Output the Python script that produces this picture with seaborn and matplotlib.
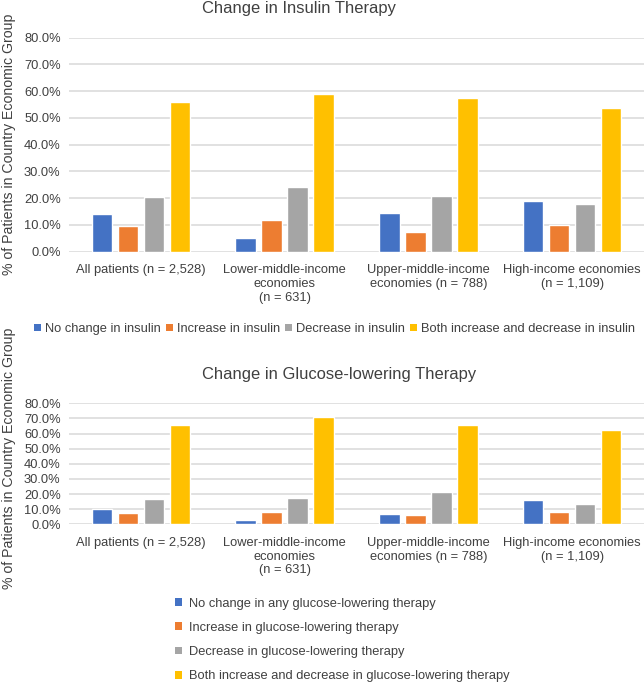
import numpy as np
import pandas as pd
import matplotlib
matplotlib.use("Agg")
import matplotlib.pyplot as plt
from matplotlib.patches import Patch
from matplotlib.ticker import PercentFormatter
import seaborn as sns

# category labels (x axis)
groups = [
    "All patients (n = 2,528)",
    "Lower-middle-income\neconomies\n(n = 631)",
    "Upper-middle-income\neconomies (n = 788)",
    "High-income economies\n(n = 1,109)",
]

# series names
insulin_series = [
    "No change in insulin",
    "Increase in insulin",
    "Decrease in insulin",
    "Both increase and decrease in insulin",
]
glucose_series = [
    "No change in any glucose-lowering therapy",
    "Increase in glucose-lowering therapy",
    "Decrease in glucose-lowering therapy",
    "Both increase and decrease in glucose-lowering therapy",
]

# values (% of patients), one list per series, in group order
ins_no_change = [14.1, 5.1, 14.6, 18.9]
ins_increase = [9.6, 11.7, 7.5, 9.8]
ins_decrease = [20.3, 24.0, 20.8, 17.8]
ins_both = [56.1, 59.1, 57.4, 53.6]

glu_no_change = [9.9, 3.1, 6.6, 15.9]
glu_increase = [7.5, 8.1, 6.2, 7.9]
glu_decrease = [16.7, 17.2, 21.2, 13.2]
glu_both = [65.5, 70.9, 65.5, 62.6]

colors = ["#4472C4", "#ED7D31", "#A5A5A5", "#FFC000"]
text_col = "#404040"


def long_df(series, values):
    rows = []
    for name, vals in zip(series, values):
        for g, v in zip(groups, vals):
            rows.append({"group": g, "series": name, "value": v})
    return pd.DataFrame(rows)


df_ins = long_df(insulin_series, [ins_no_change, ins_increase, ins_decrease, ins_both])
df_glu = long_df(glucose_series, [glu_no_change, glu_increase, glu_decrease, glu_both])

sns.set_theme(style="white")
plt.rcParams["font.family"] = ["Liberation Sans", "DejaVu Sans"]
plt.rcParams["text.color"] = text_col

W, H = 644, 683
fig = plt.figure(figsize=(W / 100, H / 100), dpi=100)


def px_axes(left, top, right, bottom):
    return fig.add_axes([left / W, 1 - bottom / H, (right - left) / W, (bottom - top) / H])


ax1 = px_axes(69, 37.7, 644, 251.7)
ax2 = px_axes(69, 403.3, 644, 524.3)

for ax, df, series in [(ax1, df_ins, insulin_series), (ax2, df_glu, glucose_series)]:
    sns.barplot(data=df, x="group", y="value", hue="series", hue_order=series,
                order=groups, palette=colors, saturation=1, width=0.724, gap=0.21,
                legend=False, ax=ax, zorder=3)
    ax.set_xlim(-0.5, 3.5)
    ax.set_ylim(0, 80)
    ax.set_yticks(np.arange(0, 81, 10))
    ax.yaxis.set_major_formatter(PercentFormatter(xmax=100, decimals=1))
    ax.grid(axis="y", color="#D9D9D9", linewidth=1.1, zorder=0)
    ax.grid(axis="x", visible=False)
    for s in ax.spines.values():
        s.set_visible(False)
    ax.tick_params(axis="both", length=0, labelsize=9.3, labelcolor=text_col)
    ax.tick_params(axis="y", pad=6)
    ax.tick_params(axis="x", pad=9)
    for lab in ax.get_xticklabels():
        lab.set_ha("center")
        lab.set_multialignment("center")
    ax.set_xlabel("")
    ax.set_ylabel("% of Patients in Country Economic Group", fontsize=10.2, color=text_col)

ax1.yaxis.set_label_coords(-0.093, 0.5)
ax2.yaxis.set_label_coords(-0.093, 0.548)

fig.text(202 / W, 1 - 8.5 / H, "Change in Insulin Therapy", ha="left", va="center",
         fontsize=11.9, color=text_col)
fig.text(202 / W, 1 - 374 / H, "Change in Glucose-lowering Therapy", ha="left", va="center",
         fontsize=11.9, color=text_col)

h1 = [Patch(facecolor=c, edgecolor="none") for c in colors]
fig.legend(h1, insulin_series, loc="center left", bbox_to_anchor=(34 / W, 1 - 329 / H),
           ncol=4, frameon=False, fontsize=9.3, handlelength=0.55, handleheight=0.55,
           handletextpad=0.3, columnspacing=0.4, borderpad=0, borderaxespad=0)

h2 = [Patch(facecolor=c, edgecolor="none") for c in colors]
fig.legend(h2, glucose_series, loc="center left", bbox_to_anchor=(175 / W, 1 - 640 / H),
           ncol=1, frameon=False, fontsize=9.3, handlelength=0.55, handleheight=0.55,
           handletextpad=0.5, labelspacing=0.95, borderpad=0, borderaxespad=0)

fig.savefig("out.png", dpi=100)
